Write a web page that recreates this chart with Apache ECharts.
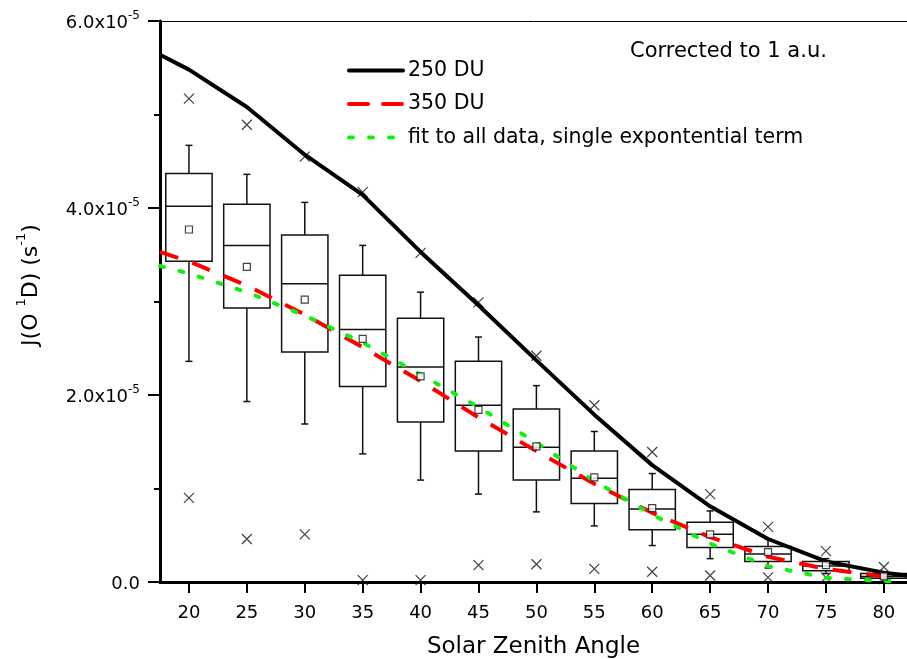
<!DOCTYPE html>
<html>
<head>
<meta charset="utf-8">
<script src="https://cdn.jsdelivr.net/npm/echarts@6/dist/echarts.min.js"></script>
<style>
  html, body { margin: 0; padding: 0; background: #fff; }
  #main { width: 907px; height: 659px; }
</style>
</head>
<body>
<div id="main"></div>
<script>
// values in units of 1e-5 s^-1
var angles = [20, 25, 30, 35, 40, 45, 50, 55, 60, 65, 70, 75, 80]
var whiskerHigh = [4.67, 4.36, 4.06, 3.60, 3.10, 2.62, 2.10, 1.61, 1.16, 0.76, 0.46, 0.25, 0.10]
var q3 = [4.37, 4.04, 3.71, 3.28, 2.82, 2.36, 1.85, 1.40, 0.99, 0.64, 0.38, 0.22, 0.09]
var median = [4.02, 3.60, 3.19, 2.70, 2.30, 1.89, 1.44, 1.11, 0.78, 0.51, 0.30, 0.17, 0.06]
var q1 = [3.43, 2.93, 2.46, 2.09, 1.71, 1.40, 1.09, 0.84, 0.56, 0.37, 0.22, 0.12, 0.04]
var whiskerLow = [2.36, 1.93, 1.69, 1.37, 1.09, 0.94, 0.75, 0.60, 0.39, 0.25, 0.15, 0.09, 0.03]
var means = [3.77, 3.37, 3.02, 2.60, 2.20, 1.84, 1.45, 1.12, 0.79, 0.51, 0.32, 0.18, 0.06]
var maxMarks = [5.17, 4.89, 4.55, 4.17, 3.52, 2.99, 2.42, 1.89, 1.39, 0.94, 0.59, 0.33, 0.16]
var minMarks = [0.90, 0.46, 0.51, 0.02, 0.02, 0.18, 0.19, 0.14, 0.11, 0.07, 0.05, 0.05, 0.03]

var lineX = [17.5, 20, 25, 30, 35, 40, 45, 50, 55, 60, 65, 70, 75, 80]
var du250 = [5.64, 5.48, 5.08, 4.57, 4.14, 3.53, 2.96, 2.37, 1.79, 1.25, 0.81, 0.46, 0.22, 0.10]
var du350 = [3.53, 3.43, 3.17, 2.86, 2.51, 2.15, 1.76, 1.40, 1.05, 0.74, 0.48, 0.27, 0.14, 0.06]
var fitAll = [3.38, 3.30, 3.10, 2.85, 2.56, 2.22, 1.87, 1.49, 1.08, 0.72, 0.41, 0.17, 0.045, 0.01]

var xTicks = [20, 25, 30, 35, 40, 45, 50, 55, 60, 65, 70, 75, 80]

function pairs(xs, ys) {
  return xs.map(function (x, i) { return [x, ys[i]] })
}
var du250Data = pairs(lineX, du250).concat([[82, 0.07]])
var du350Data = pairs(lineX, du350).concat([[80.8, 0.045]])
var fitData = pairs(lineX, fitAll).concat([[80.5, 0.01]])

var boxData = angles.map(function (a, i) {
  return [a, whiskerLow[i], q1[i], median[i], q3[i], whiskerHigh[i]]
})

var FONT = 'DejaVu Sans'
var ink = '#111'

var chart = echarts.init(document.getElementById('main'))

var option = {
  animation: false,
  textStyle: { fontFamily: FONT },
  grid: { left: 160, right: 0, top: 21, bottom: 77, containLabel: false, outerBoundsMode: 'none' },
  legend: {
    orient: 'vertical',
    left: 342,
    top: 55,
    itemWidth: 54,
    itemHeight: 14,
    itemGap: 12.5,
    itemStyle: { opacity: 0 },
    lineStyle: { width: 4, cap: 'round' },
    textStyle: { fontSize: 20.5, color: '#000', fontFamily: FONT, lineHeight: 20 },
    data: ['250 DU', '350 DU', 'fit to all data, single expontential term']
  },
  graphic: [
    {
      type: 'text',
      left: 630,
      top: 41,
      style: { text: 'Corrected to 1 a.u.', fontSize: 21, fontFamily: FONT, fill: '#000' }
    },
    {
      type: 'text',
      x: 29,
      y: 285,
      rotation: Math.PI / 2,
      style: {
        text: '{b|J(O }{s|1}{b|D) (s}{s|-1}{b|)}',
        align: 'center',
        verticalAlign: 'middle',
        fill: '#000',
        rich: {
          b: { fontSize: 22, fontFamily: FONT, lineHeight: 27, verticalAlign: 'bottom' },
          s: { fontSize: 13, fontFamily: FONT, lineHeight: 13, verticalAlign: 'top' }
        }
      }
    }
  ],
  xAxis: [
    {
      type: 'value',
      min: 17.5,
      max: 82,
      name: 'Solar Zenith Angle',
      nameLocation: 'middle',
      nameGap: 54,
      nameTextStyle: { fontSize: 23, color: '#000', fontFamily: FONT },
      axisLine: { show: true, onZero: false, lineStyle: { color: '#000', width: 3 } },
      axisTick: { show: true, length: 11, lineStyle: { color: '#000', width: 2 }, customValues: xTicks },
      axisLabel: { fontSize: 18, color: '#000', margin: 22, customValues: xTicks },
      splitLine: { show: false }
    },
    {
      type: 'value',
      position: 'top',
      min: 17.5,
      max: 82,
      axisLine: { show: true, onZero: false, lineStyle: { color: '#000', width: 1 } },
      axisTick: { show: false },
      axisLabel: { show: false },
      splitLine: { show: false }
    }
  ],
  yAxis: {
    type: 'value',
    min: 0,
    max: 6,
    interval: 2,
    axisLine: { show: true, lineStyle: { color: '#000', width: 3 } },
    axisTick: { show: true, length: 12, lineStyle: { color: '#000', width: 2 } },
    minorTick: { show: true, splitNumber: 2, length: 6, lineStyle: { color: '#000', width: 2 } },
    axisLabel: {
      margin: 20,
      color: '#000',
      formatter: function (v) {
        if (v === 0) return '{b|0.0}'
        return '{b|' + v.toFixed(1) + 'x10}{s|-5}'
      },
      rich: {
        b: { fontSize: 18, fontFamily: FONT, color: '#000', lineHeight: 22, verticalAlign: 'bottom' },
        s: { fontSize: 12, fontFamily: FONT, color: '#000', lineHeight: 12, verticalAlign: 'top' }
      }
    },
    splitLine: { show: false }
  },
  series: [
    {
      type: 'custom',
      z: 2,
      clip: true,
      renderItem: function (params, api) {
        var x = api.value(0)
        var lo = api.coord([x, api.value(1)])
        var b1 = api.coord([x, api.value(2)])
        var md = api.coord([x, api.value(3)])
        var b3 = api.coord([x, api.value(4)])
        var hi = api.coord([x, api.value(5)])
        var left = api.coord([x - 2, 0])[0]
        var right = api.coord([x + 2, 0])[0]
        var cap = 3.5
        var st = { stroke: ink, lineWidth: 1.5, fill: null }
        return {
          type: 'group',
          children: [
            { type: 'rect', shape: { x: left, y: b3[1], width: right - left, height: b1[1] - b3[1] }, style: { stroke: ink, lineWidth: 1.5, fill: 'none' } },
            { type: 'line', shape: { x1: left, y1: md[1], x2: right, y2: md[1] }, style: st },
            { type: 'line', shape: { x1: hi[0], y1: hi[1], x2: hi[0], y2: b3[1] }, style: st },
            { type: 'line', shape: { x1: lo[0], y1: lo[1], x2: lo[0], y2: b1[1] }, style: st },
            { type: 'line', shape: { x1: hi[0] - cap, y1: hi[1], x2: hi[0] + cap, y2: hi[1] }, style: st },
            { type: 'line', shape: { x1: lo[0] - cap, y1: lo[1], x2: lo[0] + cap, y2: lo[1] }, style: st }
          ]
        }
      },
      encode: { x: 0, y: [1, 2, 3, 4, 5] },
      data: boxData
    },
    {
      type: 'scatter',
      z: 3,
      symbol: 'path://M0,0L10,10M10,0L0,10',
      symbolSize: 10,
      itemStyle: { color: 'none', borderColor: ink, borderWidth: 1.2 },
      data: pairs(angles, maxMarks).concat(pairs(angles, minMarks))
    },
    {
      name: '250 DU',
      type: 'line',
      z: 5,
      showSymbol: false,
      symbol: 'none',
      lineStyle: { color: '#000', width: 4 },
      itemStyle: { color: '#000' },
      data: du250Data
    },
    {
      name: '350 DU',
      type: 'line',
      z: 5,
      showSymbol: false,
      symbol: 'none',
      lineStyle: { color: '#ff0000', width: 4, type: [19, 15] },
      itemStyle: { color: '#ff0000' },
      data: du350Data
    },
    {
      name: 'fit to all data, single expontential term',
      type: 'line',
      z: 5,
      showSymbol: false,
      symbol: 'none',
      lineStyle: { color: '#11ee11', width: 4, type: [4, 16], cap: 'round' },
      itemStyle: { color: '#11ee11' },
      data: fitData
    },
    {
      type: 'scatter',
      z: 6,
      symbol: 'rect',
      symbolSize: 7,
      itemStyle: { color: '#fff', borderColor: ink, borderWidth: 1.2 },
      data: pairs(angles, means)
    }
  ]
}

chart.setOption(option)
</script>
</body>
</html>
